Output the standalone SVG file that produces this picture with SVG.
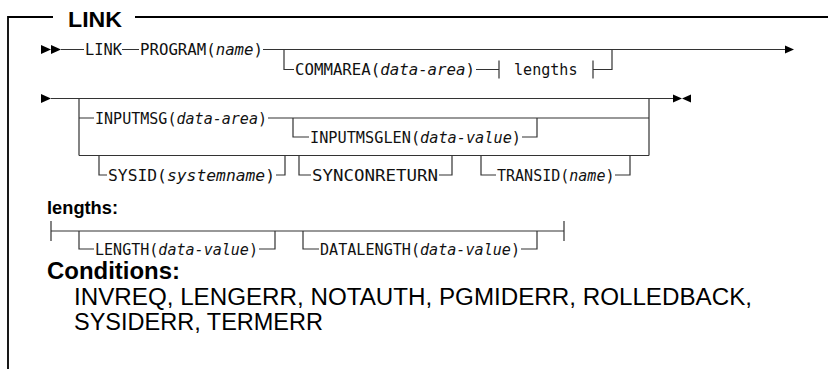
<svg xmlns="http://www.w3.org/2000/svg" width="828" height="369" viewBox="0 0 828 369">
<style>
.ln{fill:none;stroke:#333;stroke-width:1.2}
.bd{fill:none;stroke:#000;stroke-width:1.8}
.ar{fill:#000;stroke:none}
.t{font-family:"DejaVu Sans Mono","Liberation Mono",monospace;font-size:15px;fill:#111}
.i{font-style:italic}
.hd{font-family:"Liberation Sans",Arial,sans-serif;font-weight:bold;fill:#000}
.c{font-family:"Liberation Sans",Arial,sans-serif;font-size:23px;fill:#000}
</style>
<rect width="828" height="369" fill="#fff"/>
<g id="frame">
<path class="bd" d="M8,369 V17 H53 M135,17 H828"/>
<text class="hd" x="68" y="27" font-size="22" textLength="54" lengthAdjust="spacingAndGlyphs">LINK</text>
</g>
<g id="connectors">
<path class="ln" d="M61,49.5 H84 M122,49.5 H139 M263,49.5 H786"/>
<path class="ln" d="M284,49.5 V69.5 H294 M476,69.5 H499 M499,60.5 V78.5 M593,60.5 V78.5 M593,69.5 H612 V49.5"/>
<path class="ln" d="M51,98.5 H674 M79,98.5 V155.5 M649,98.5 V155.5"/>
<path class="ln" d="M79,118 H94 M268,118 H649 M293,118 V137 H309 M522,137 H537 V118"/>
<path class="ln" d="M79,155.5 H649 M99,155.5 V175 H107 M276,175 H285 V155.5 M299,155.5 V175 H311 M439,175 H452 V155.5 M481,155.5 V175 H496 M615,175 H630 V155.5"/>
<path class="ln" d="M51,221 V241 M51,231 H564 M564,221 V241 M79,231 V249 H94 M259,249 H275 V231 M303,231 V249 H319 M521,249 H537 V231"/>
<path class="ar" d="M41,45 L51,49.5 L41,54 Z M51,45 L61,49.5 L51,54 Z"/>
<path class="ar" d="M785,45.5 L794,49.5 L785,53.5 Z"/>
<path class="ar" d="M41,94 L51,98.5 L41,103 Z"/>
<path class="ar" d="M673,94.5 L682,98.5 L673,102.5 Z M691,94.5 L682,98.5 L691,102.5 Z"/>
</g>
<g id="n-link"><text class="t" x="85" y="55" textLength="37" lengthAdjust="spacingAndGlyphs">LINK</text></g>
<g id="n-program"><text class="t" x="140" y="55" textLength="123" lengthAdjust="spacingAndGlyphs">PROGRAM(<tspan class="i">name</tspan>)</text></g>
<g id="n-commarea"><text class="t" x="295" y="75" textLength="180" lengthAdjust="spacingAndGlyphs">COMMAREA(<tspan class="i">data-area</tspan>)</text></g>
<g id="n-lengths-ref"><text class="t" x="514" y="75" textLength="63.5" lengthAdjust="spacingAndGlyphs">lengths</text></g>
<g id="n-inputmsg"><text class="t" x="95" y="123.5" textLength="172" lengthAdjust="spacingAndGlyphs">INPUTMSG(<tspan class="i">data-area</tspan>)</text></g>
<g id="n-inputmsglen"><text class="t" x="310" y="142.5" textLength="211" lengthAdjust="spacingAndGlyphs">INPUTMSGLEN(<tspan class="i">data-value</tspan>)</text></g>
<g id="n-sysid"><text class="t" x="108" y="180.5" textLength="167" lengthAdjust="spacingAndGlyphs">SYSID(<tspan class="i">systemname</tspan>)</text></g>
<g id="n-synconreturn"><text class="t" x="312" y="180.5" textLength="126" lengthAdjust="spacingAndGlyphs">SYNCONRETURN</text></g>
<g id="n-transid"><text class="t" x="497" y="180.5" textLength="117.5" lengthAdjust="spacingAndGlyphs">TRANSID(<tspan class="i">name</tspan>)</text></g>
<g id="n-lengths-label"><text class="hd" x="47" y="214" font-size="18" textLength="71" lengthAdjust="spacingAndGlyphs">lengths:</text></g>
<g id="n-length"><text class="t" x="95" y="254.5" textLength="163" lengthAdjust="spacingAndGlyphs">LENGTH(<tspan class="i">data-value</tspan>)</text></g>
<g id="n-datalength"><text class="t" x="320" y="254.5" textLength="200" lengthAdjust="spacingAndGlyphs">DATALENGTH(<tspan class="i">data-value</tspan>)</text></g>
<g id="n-conditions">
<text class="hd" x="47" y="279" font-size="23" textLength="133" lengthAdjust="spacingAndGlyphs">Conditions:</text>
<text class="c" x="74" y="305" textLength="678" lengthAdjust="spacingAndGlyphs">INVREQ, LENGERR, NOTAUTH, PGMIDERR, ROLLEDBACK,</text>
<text class="c" x="74" y="330" textLength="249" lengthAdjust="spacingAndGlyphs">SYSIDERR, TERMERR</text>
</g>
</svg>
